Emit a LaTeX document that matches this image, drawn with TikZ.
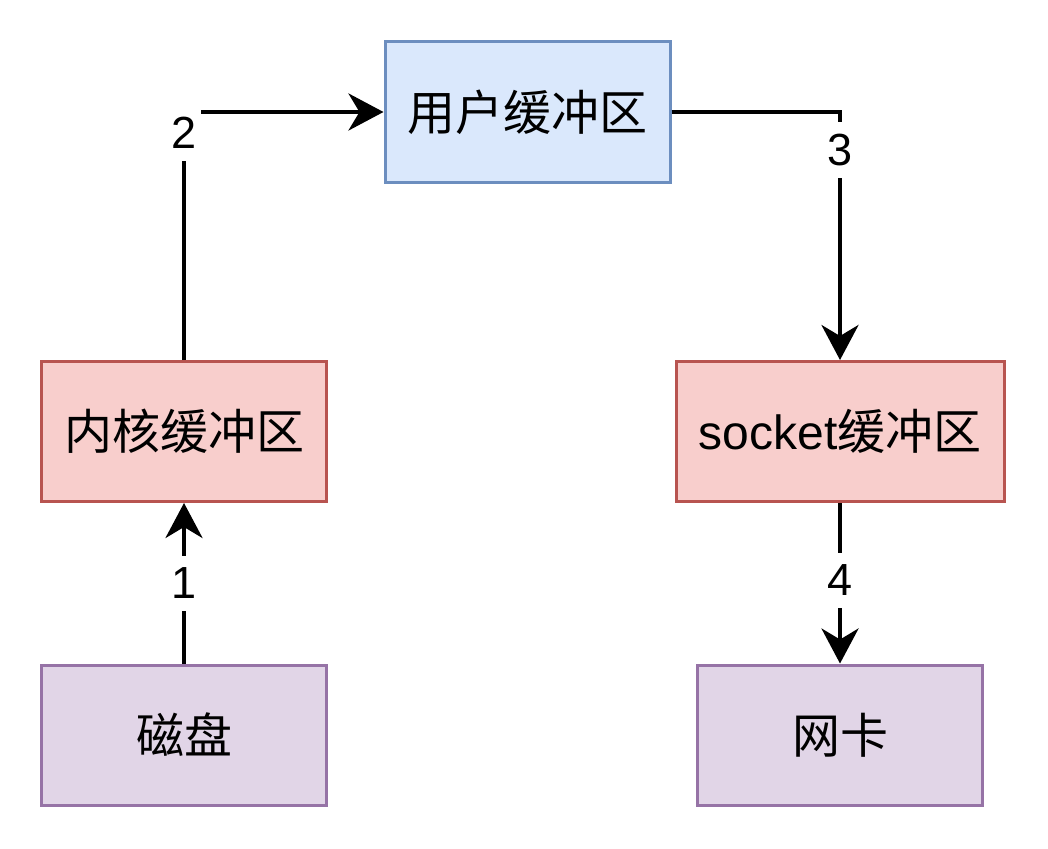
\documentclass[tikz,border=0pt]{standalone}
\usepackage{fontspec}
\setmainfont{Liberation Sans}
\newfontfamily\cjk{Noto Sans CJK SC}
\usetikzlibrary{arrows.meta}
\definecolor{bluefill}{HTML}{DAE8FC}
\definecolor{bluedraw}{HTML}{6C8EBF}
\definecolor{redfill}{HTML}{F8CECC}
\definecolor{reddraw}{HTML}{B85450}
\definecolor{purfill}{HTML}{E1D5E7}
\definecolor{purdraw}{HTML}{9673A6}
\tikzset{
  box/.style={draw, line width=3pt, inner sep=0pt, minimum height=140pt,
    font=\fontsize{48pt}{54pt}\selectfont},
  bluebox/.style={box, fill=bluefill, draw=bluedraw},
  redbox/.style={box, fill=redfill, draw=reddraw},
  purbox/.style={box, fill=purfill, draw=purdraw},
  conn/.style={line width=4pt, -{Stealth[length=35pt,width=37pt,inset=11pt]}},
  num/.style={fill=white, inner xsep=4pt, inner ysep=12pt,
    font=\fontsize{45pt}{50pt}\selectfont}
}
\begin{document}
\begin{tikzpicture}[x=1pt,y=-1pt]
\useasboundingbox (0,0) rectangle (1048,848);
\node[bluebox, minimum width=285pt] (user) at (527.5,112) {\cjk 用户缓冲区};
\node[redbox, minimum width=285pt] (kernel) at (184,431.5) {\cjk 内核缓冲区};
\node[redbox, minimum width=328pt] (socket) at (840,431.5) {socket{\cjk 缓冲区}};
\node[purbox, minimum width=285pt] (disk) at (184,735) {\cjk 磁盘};
\node[purbox, minimum width=285pt] (nic) at (840,735) {\cjk 网卡};
\draw[conn] (disk.north) -- node[num, pos=0.5] {1} (kernel.south);
\draw[conn] (kernel.north) |- node[num, pos=0.458] {2} (user.west);
\draw[conn] (user.east) -| node[num, pos=0.576] {3} (socket.north);
\draw[conn] (socket.south) -- node[num, pos=0.48] {4} (nic.north);
\end{tikzpicture}
\end{document}
